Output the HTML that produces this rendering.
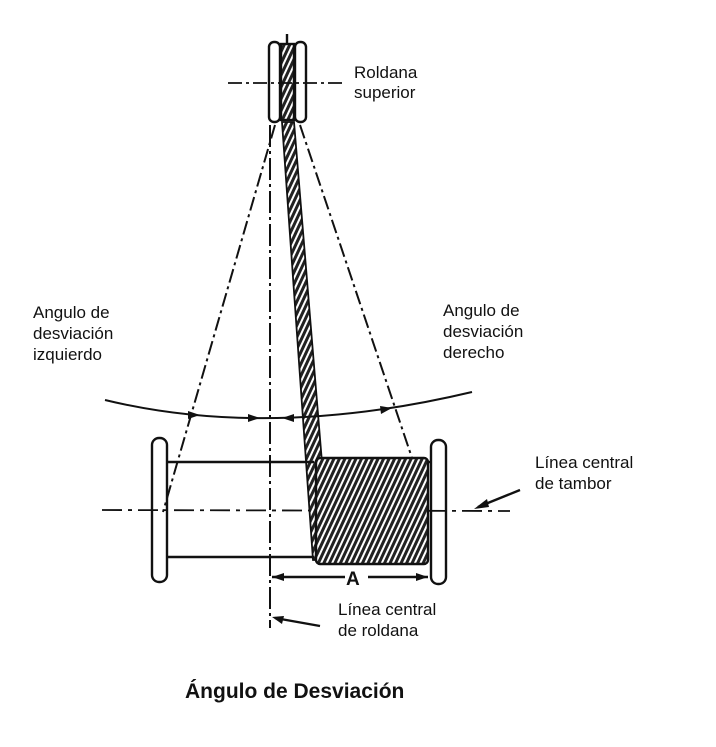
<!DOCTYPE html>
<html><head><style>body{margin:0;background:#fff}svg{display:block}</style></head><body>
<svg width="716" height="747" viewBox="0 0 716 747" xmlns="http://www.w3.org/2000/svg" font-family="Liberation Sans, sans-serif">
<defs>
<pattern id="h" width="5" height="5" patternUnits="userSpaceOnUse" patternTransform="rotate(25)">
<rect width="5" height="5" fill="#fff"/><rect width="3" height="5" fill="#222"/></pattern>
</defs>
<g stroke="#111" fill="none" stroke-width="2.4">
<rect x="269" y="42" width="11" height="80" rx="5"/>
<rect x="295" y="42" width="11" height="80" rx="5"/>
<rect x="281" y="44" width="13" height="76" fill="url(#h)"/>
<line x1="287" y1="34" x2="287" y2="44"/>
<line x1="228" y1="83" x2="345" y2="83" stroke-dasharray="14,4,3,4" stroke-width="1.8"/>
<line x1="275" y1="125" x2="163" y2="512" stroke-dasharray="14,4,3,4" stroke-width="2"/>
<line x1="300" y1="125" x2="412" y2="458" stroke-dasharray="14,4,3,4" stroke-width="2"/>
<line x1="270" y1="125" x2="270" y2="628" stroke-dasharray="22,4,3,4" stroke-width="2"/>
<line x1="102" y1="510" x2="510" y2="511" stroke-dasharray="20,6,4,6" stroke-width="1.8"/>
<polygon points="282,122 294,122 330,560 313,560" fill="url(#h)" stroke-width="1.8"/>
<path d="M105 400 Q270 440 472 392" stroke-width="2"/>
<rect x="152" y="438" width="15" height="144" rx="7"/>
<rect x="431" y="440" width="15" height="144" rx="7"/>
<path d="M167 462 L314 462 M167 557 L314 557"/>
<rect x="316" y="458" width="112" height="106" rx="4" fill="url(#h)"/>
<line x1="428" y1="462" x2="432" y2="462"/>
<line x1="272" y1="577" x2="345" y2="577"/>
<line x1="368" y1="577" x2="428" y2="577"/>
<line x1="478" y1="507" x2="520" y2="490"/>
<line x1="275" y1="618" x2="320" y2="626"/>
</g>
<g fill="#111">
<polygon points="200,415 188,411 188,419"/>
<polygon points="260,418 248,414 248,422"/>
<polygon points="282,418 294,414 294,422"/>
<polygon points="392,408 380,406 381,414"/>
<polygon points="272,577 284,573 284,581"/>
<polygon points="428,577 416,573 416,581"/>
<polygon points="474,509 487,499 489,507"/>
<polygon points="272,617 284,616 282,624"/>
</g>
<g font-size="17" fill="#111">
<text x="354" y="78">Roldana</text><text x="354" y="98">superior</text>
<text x="33" y="318">Angulo de</text><text x="33" y="339">desviación</text><text x="33" y="360">izquierdo</text>
<text x="443" y="316">Angulo de</text><text x="443" y="337">desviación</text><text x="443" y="358">derecho</text>
<text x="535" y="468">Línea central</text><text x="535" y="489">de tambor</text>
<text x="338" y="615">Línea central</text><text x="338" y="636">de roldana</text>
<text x="346" y="585" font-size="19" font-weight="bold">A</text>
<text x="185" y="698" font-size="21" font-weight="bold">Ángulo de Desviación</text>
</g>
</svg>
</body></html>
